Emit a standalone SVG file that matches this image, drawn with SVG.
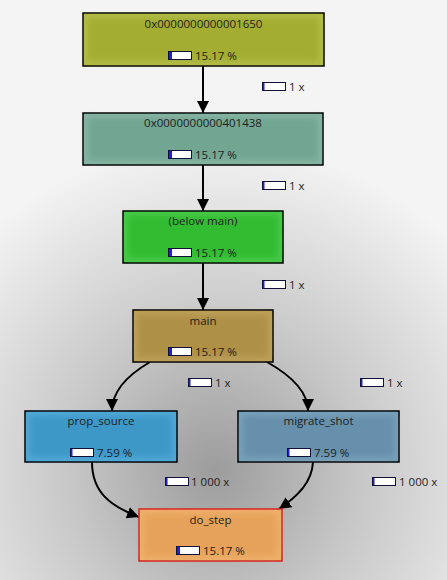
<svg xmlns="http://www.w3.org/2000/svg" width="447" height="580" viewBox="0 0 447 580">
<defs>
<radialGradient id="bg" gradientUnits="userSpaceOnUse" cx="215" cy="470" r="330">
<stop offset="0" stop-color="#9c9c9c"/>
<stop offset="0.45" stop-color="#c8c8c8"/>
<stop offset="1" stop-color="#f4f4f4"/>
</radialGradient>
<filter id="soft" x="-10%" y="-20%" width="120%" height="140%"><feGaussianBlur stdDeviation="3"/></filter>
<marker id="ah" markerUnits="userSpaceOnUse" markerWidth="14" markerHeight="14" refX="12" refY="6" orient="auto">
<path d="M0,0 L12,6 L0,12 Z" fill="#000"/>
</marker>
</defs>
<style>
text{font-family:"Open Sans","DejaVu Sans",sans-serif;font-size:11.5px;fill:#1e1e1e}
.t{text-anchor:middle}
.box{stroke:#000;stroke-width:1.5}
.bar{fill:#fff;stroke:#10103a;stroke-width:1}
.bf{fill:#2020d8}
.e{fill:none;stroke:#000;stroke-width:2}
</style>
<rect width="447" height="580" fill="url(#bg)"/>

<g id="connectors">
<path class="e" d="M203 66 L203 113" marker-end="url(#ah)"/>
<path class="e" d="M203 165 L203 211" marker-end="url(#ah)"/>
<path class="e" d="M203 263 L203 310" marker-end="url(#ah)"/>
<path class="e" d="M150 362 C126 376 112 392 112 411" marker-end="url(#ah)"/>
<path class="e" d="M267 362 C292 376 308 392 308 411" marker-end="url(#ah)"/>
<path class="e" d="M92 462 C92 492 110 506 139 517" marker-end="url(#ah)"/>
<path class="e" d="M313 462 C312 482 298 496 279 509" marker-end="url(#ah)"/>
<g id="edge-labels">
<rect class="bar" x="262.5" y="82.5" width="23" height="8"/><rect class="bf" x="263" y="83" width="1.5" height="7"/><text x="289" y="91">1 x</text>
<rect class="bar" x="262.5" y="181.5" width="23" height="8"/><rect class="bf" x="263" y="182" width="1.5" height="7"/><text x="289" y="190">1 x</text>
<rect class="bar" x="262.5" y="280.5" width="23" height="8"/><rect class="bf" x="263" y="281" width="1.5" height="7"/><text x="289" y="289">1 x</text>
<rect class="bar" x="188.5" y="378.5" width="23" height="8"/><rect class="bf" x="189" y="379" width="1.5" height="7"/><text x="215" y="387">1 x</text>
<rect class="bar" x="360.5" y="378.5" width="23" height="8"/><rect class="bf" x="361" y="379" width="1.5" height="7"/><text x="387" y="387">1 x</text>
<rect class="bar" x="165.5" y="477.5" width="23" height="8"/><rect class="bf" x="166" y="478" width="1.5" height="7"/><text x="191" y="486">1 000 x</text>
<rect class="bar" x="372.5" y="477.5" width="23" height="8"/><rect class="bf" x="373" y="478" width="1.5" height="7"/><text x="399" y="486">1 000 x</text>
</g>
</g>

<g id="n1">
<rect class="box" x="83" y="13" width="241" height="53" fill="#b2bc48"/>
<rect x="88" y="18" width="231" height="43" fill="#a3ad33" filter="url(#soft)"/>
<text class="t" x="203.5" y="28">0x0000000000001650</text>
<rect class="bar" x="168.5" y="51.5" width="23" height="8"/><rect class="bf" x="169" y="52" width="3" height="7"/>
<text x="195" y="60">15.17 %</text>
</g>

<g id="n2">
<rect class="box" x="83" y="113" width="240" height="52" fill="#86b4a4"/>
<rect x="88" y="118" width="230" height="42" fill="#72a692" filter="url(#soft)"/>
<text class="t" x="203" y="127">0x0000000000401438</text>
<rect class="bar" x="168.5" y="150.5" width="23" height="8"/><rect class="bf" x="169" y="151" width="3" height="7"/>
<text x="195" y="159">15.17 %</text>
</g>

<g id="n3">
<rect class="box" x="123" y="211" width="160" height="52" fill="#48c848"/>
<rect x="128" y="216" width="150" height="42" fill="#30bc30" filter="url(#soft)"/>
<text class="t" x="203" y="225">(below main)</text>
<rect class="bar" x="168.5" y="248.5" width="23" height="8"/><rect class="bf" x="169" y="249" width="3" height="7"/>
<text x="195" y="257">15.17 %</text>
</g>

<g id="n4">
<rect class="box" x="133" y="310" width="140" height="52" fill="#bea05a"/>
<rect x="138" y="315" width="130" height="42" fill="#ae9046" filter="url(#soft)"/>
<text class="t" x="203" y="325">main</text>
<rect class="bar" x="168.5" y="347.5" width="23" height="8"/><rect class="bf" x="169" y="348" width="3" height="7"/>
<text x="195" y="356">15.17 %</text>
</g>

<g id="n5">
<rect class="box" x="25" y="411" width="152" height="51" fill="#50a8d6"/>
<rect x="30" y="416" width="142" height="41" fill="#3c98c8" filter="url(#soft)"/>
<text class="t" x="101" y="425">prop_source</text>
<rect class="bar" x="70.5" y="448.5" width="23" height="8"/><rect class="bf" x="71" y="449" width="1.5" height="7"/>
<text x="97" y="457">7.59 %</text>
</g>

<g id="n6">
<rect class="box" x="238" y="411" width="161" height="51" fill="#78a0ba"/>
<rect x="243" y="416" width="151" height="41" fill="#6690ab" filter="url(#soft)"/>
<text class="t" x="318.5" y="425">migrate_shot</text>
<rect class="bar" x="287.5" y="448.5" width="23" height="8"/><rect class="bf" x="288" y="449" width="1.5" height="7"/>
<text x="314" y="457">7.59 %</text>
</g>

<g id="n7">
<rect x="139" y="509" width="143" height="52" fill="#eeb06a" stroke="#d42020" stroke-width="1.5"/>
<rect x="144" y="514" width="133" height="42" fill="#e6a25a" filter="url(#soft)"/>
<text class="t" x="210.5" y="524">do_step</text>
<rect class="bar" x="176.5" y="546.5" width="23" height="8"/><rect class="bf" x="177" y="547" width="3" height="7"/>
<text x="203" y="555">15.17 %</text>
</g>
</svg>
